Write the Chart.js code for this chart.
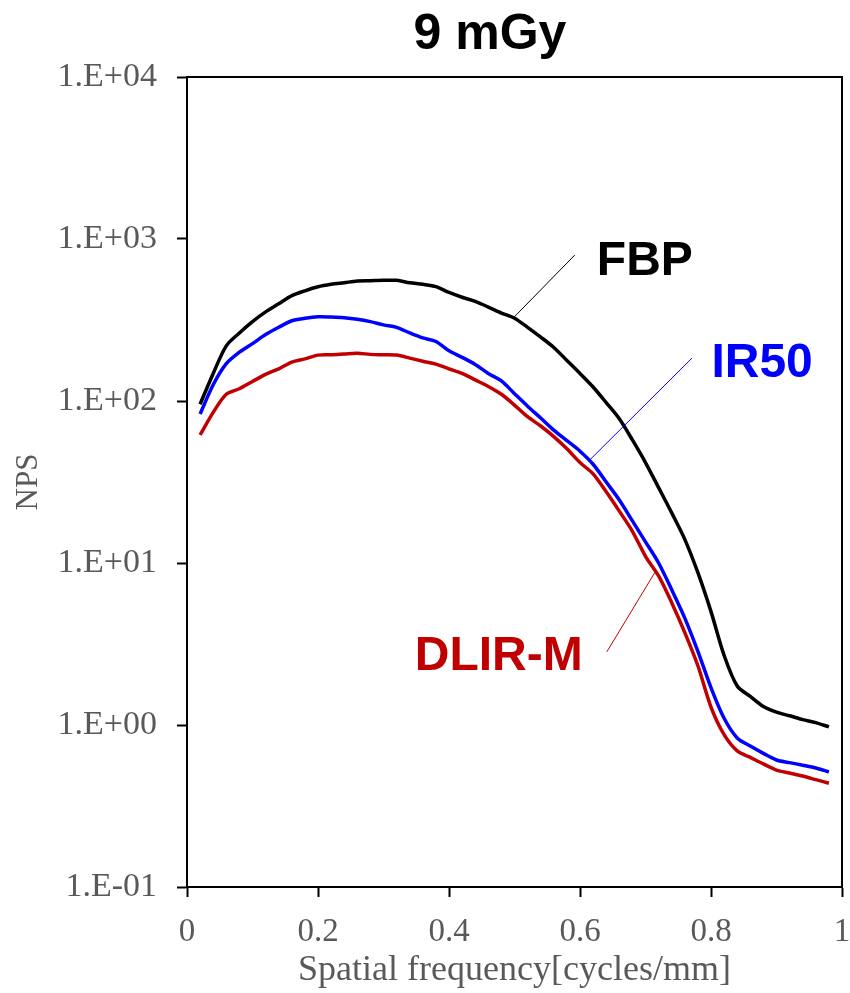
<!DOCTYPE html>
<html>
<head>
<meta charset="utf-8">
<script src="https://cdn.jsdelivr.net/npm/chart.js@4.4.1/dist/chart.umd.min.js"></script>
<style>
  html, body { margin: 0; padding: 0; background: #ffffff; }
  #wrap { width: 850px; height: 993px; position: relative; }
</style>
</head>
<body>
<div id="wrap"><canvas id="c"></canvas></div>
<script>
// ---- data ----
const chartTitle = '9 mGy';
const frequency = [0.02,0.04,0.06,0.08,0.10,0.12,0.14,0.16,0.18,0.20,
                   0.22,0.24,0.26,0.28,0.30,0.32,0.34,0.36,0.38,0.40,
                   0.42,0.44,0.46,0.48,0.50,0.52,0.54,0.56,0.58,0.60,
                   0.62,0.64,0.66,0.68,0.70,0.72,0.74,0.76,0.78,0.80,
                   0.82,0.84,0.86,0.88,0.90,0.92,0.94,0.96,0.98];
const fbp = [95.5,148,219,263,309,355,398,447,479,507,
             525,537,550,553,556,556,537,525,508,468,
             437,412,380,349,324,285,248,214,178,148,
             122,97.7,77.6,57.5,41.7,29.2,20.4,14.0,8.71,5.01,
             2.69,1.74,1.50,1.30,1.20,1.14,1.08,1.035,0.973];
const ir50 = [83.2,126,170,200,226,257,285,313,324,331,
              330,327,320,309,295,285,263,245,233,204,
              186,168,148,133,111,92.9,78.5,66.1,56.9,49.0,
              40.7,31.6,24.5,18.2,13.5,10.0,6.84,4.57,2.85,1.70,
              1.10,0.832,0.741,0.668,0.608,0.586,0.565,0.543,0.513];
const dlirM = [61.7,85.1,110,119,132,146,158,174,182,192,
               193,195,197,194,193,192,184,176,169,158,
               148,135,123,110,94.4,80.0,70.1,60.3,50.7,41.7,
               35.5,27.5,20.9,15.7,11.0,8.32,5.69,3.72,2.32,1.29,
               0.871,0.692,0.631,0.575,0.527,0.505,0.484,0.460,0.437];
const seriesNames = ['FBP', 'IR50', 'DLIR-M'];
const xTickValues = [0, 0.2, 0.4, 0.6, 0.8, 1];
const xTickLabels = ['0', '0.2', '0.4', '0.6', '0.8', '1'];
const yTickValues = [0.1, 1, 10, 100, 1000, 10000];
const yTickLabels = ['1.E-01', '1.E+00', '1.E+01', '1.E+02', '1.E+03', '1.E+04'];
const xAxisTitle = 'Spatial frequency[cycles/mm]';
const yAxisTitle = 'NPS';

// ---- styling ----
const colors = ['#000000', '#0000ff', '#c00000'];
const serif = '"Liberation Serif", "Times New Roman", serif';
const sans = '"Liberation Sans", Arial, sans-serif';

// call-out labels (anchored in data units)
const callouts = [
  { text: seriesNames[0], color: colors[0], tx: 0.699, ty: 721,  x1: 0.592, y1: 796, x2: 0.498, y2: 325 },
  { text: seriesNames[1], color: colors[1], tx: 0.878, ty: 169,  x1: 0.771, y1: 184, x2: 0.615, y2: 43.3 },
  { text: seriesNames[2], color: colors[2], tx: 0.476, ty: 2.63, x1: 0.641, y1: 2.83, x2: 0.715, y2: 8.84 }
];

function pts(arr) { return frequency.map((f, i) => ({ x: f, y: arr[i] })); }

const framePlugin = {
  id: 'frame',
  afterDraw(chart) {
    const { ctx, chartArea: a, scales: { x, y } } = chart;
    ctx.save();
    ctx.strokeStyle = '#000';
    ctx.lineWidth = 2;
    ctx.strokeRect(a.left, a.top, a.right - a.left, a.bottom - a.top);
    // call-outs
    callouts.forEach(c => {
      ctx.strokeStyle = c.color;
      ctx.lineWidth = 1;
      ctx.beginPath();
      ctx.moveTo(x.getPixelForValue(c.x1), y.getPixelForValue(c.y1));
      ctx.lineTo(x.getPixelForValue(c.x2), y.getPixelForValue(c.y2));
      ctx.stroke();
      ctx.fillStyle = c.color;
      ctx.font = 'bold 48px ' + sans;
      ctx.textAlign = 'center';
      ctx.textBaseline = 'middle';
      ctx.fillText(c.text, x.getPixelForValue(c.tx), y.getPixelForValue(c.ty));
    });
    // title
    ctx.fillStyle = '#000';
    ctx.font = 'bold 50px ' + sans;
    ctx.textAlign = 'center';
    ctx.textBaseline = 'middle';
    ctx.fillText(chartTitle, 490, 35);
    ctx.restore();
  }
};

new Chart(document.getElementById('c'), {
  type: 'line',
  data: {
    datasets: [
      { label: seriesNames[0], data: pts(fbp),   borderColor: colors[0] },
      { label: seriesNames[1], data: pts(ir50),  borderColor: colors[1] },
      { label: seriesNames[2], data: pts(dlirM), borderColor: colors[2] }
    ]
  },
  options: {
    responsive: true,
    maintainAspectRatio: false,
    animation: false,
    layout: { padding: { top: 77, right: 8, left: 0, bottom: 0 } },
    elements: {
      line: { borderWidth: 3.5, tension: 0.3, fill: false },
      point: { radius: 0 }
    },
    plugins: {
      legend: { display: false },
      tooltip: { enabled: false },
      title: { display: false }
    },
    scales: {
      x: {
        type: 'linear',
        min: 0, max: 1,
        afterBuildTicks: s => { s.ticks = xTickValues.map(v => ({ value: v })); },
        afterFit: s => { s.height = 106; s.paddingLeft = 0; s.paddingRight = 0; },
        ticks: {
          callback: (v, i) => xTickLabels[i],
          color: '#595959',
          font: { family: serif, size: 33 },
          padding: 16,
          maxRotation: 0
        },
        grid: { drawOnChartArea: false, drawTicks: true, tickLength: 10, tickColor: '#000', tickWidth: 2 },
        border: { display: true, color: '#000', width: 2 },
        title: {
          display: true, text: xAxisTitle, color: '#595959',
          font: { family: serif, size: 36 }, padding: { top: 0, bottom: 1 }
        }
      },
      y: {
        type: 'logarithmic',
        min: 0.1, max: 10000,
        afterBuildTicks: s => { s.ticks = yTickValues.map(v => ({ value: v })); },
        afterFit: s => { s.width = 187; },
        ticks: {
          callback: (v, i) => yTickLabels[i],
          color: '#595959',
          font: { family: serif, size: 34 },
          padding: 20
        },
        grid: { drawOnChartArea: false, drawTicks: true, tickLength: 10, tickColor: '#000', tickWidth: 2 },
        border: { display: true, color: '#000', width: 2 },
        title: {
          display: true, text: yAxisTitle, color: '#595959',
          font: { family: serif, size: 31 }, padding: { top: 10, bottom: 0 }
        }
      }
    }
  },
  plugins: [framePlugin]
});
</script>
</body>
</html>
